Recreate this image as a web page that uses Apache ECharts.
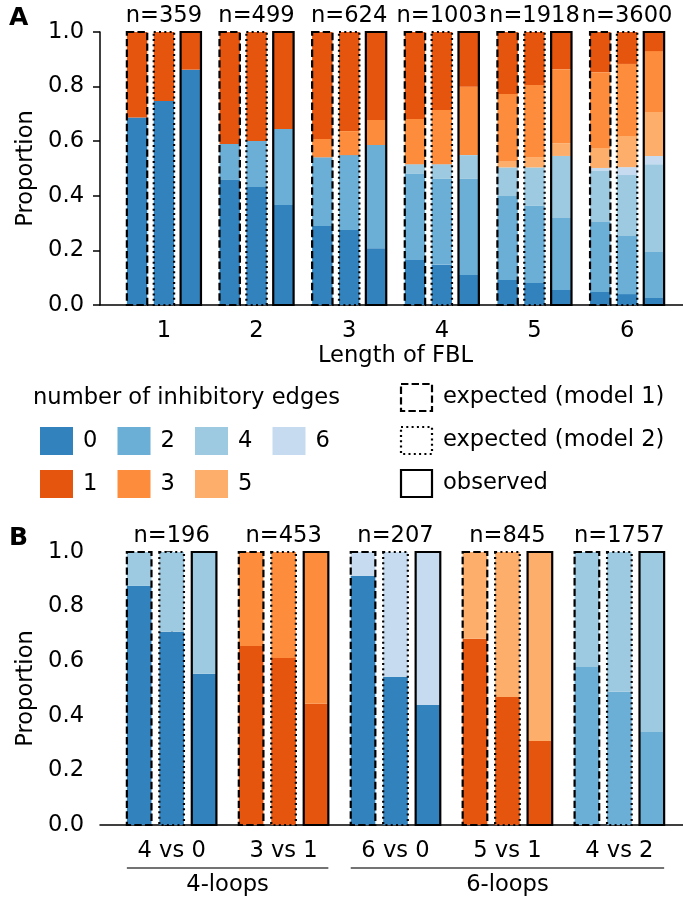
<!DOCTYPE html>
<html>
<head>
<meta charset="utf-8">
<script src="https://cdn.jsdelivr.net/npm/echarts@6/dist/echarts.min.js"></script>
<style>
html,body{margin:0;padding:0;background:#fff;}
#chart{width:683px;height:900px;}
</style>
</head>
<body>
<div id="chart"></div>
<script>
// ---------------- DATA ----------------
// Panel A: proportions per FBL length; columns = number of inhibitory edges 0..6
const fblLengths = [1, 2, 3, 4, 5, 6];
const fblTotals = [359, 499, 624, 1003, 1918, 3600];
const fblModel1 = [
  [0.687, 0.313, 0, 0, 0, 0, 0],
  [0.458, 0.410, 0.132, 0, 0, 0, 0],
  [0.289, 0.392, 0.252, 0.067, 0, 0, 0],
  [0.165, 0.319, 0.315, 0.165, 0.036, 0, 0],
  [0.092, 0.227, 0.307, 0.246, 0.105, 0.023, 0],
  [0.048, 0.147, 0.256, 0.278, 0.187, 0.073, 0.011]
];
const fblModel2 = [
  [0.747, 0.253, 0, 0, 0, 0, 0],
  [0.432, 0.399, 0.169, 0, 0, 0, 0],
  [0.275, 0.363, 0.274, 0.088, 0, 0, 0],
  [0.147, 0.286, 0.315, 0.198, 0.054, 0, 0],
  [0.081, 0.194, 0.282, 0.264, 0.141, 0.038, 0],
  [0.040, 0.117, 0.213, 0.264, 0.223, 0.114, 0.029]
];
const fblObserved = [
  [0.862, 0.138, 0, 0, 0, 0, 0],
  [0.366, 0.355, 0.279, 0, 0, 0, 0],
  [0.208, 0.322, 0.378, 0.092, 0, 0, 0],
  [0.110, 0.201, 0.352, 0.250, 0.087, 0, 0],
  [0.055, 0.136, 0.264, 0.271, 0.227, 0.047, 0],
  [0.026, 0.070, 0.168, 0.223, 0.322, 0.161, 0.030]
];

// Panel B: pairs of loops; proportion of the "lower" edge-count class
const pairLabels = ['4 vs 0', '3 vs 1', '6 vs 0', '5 vs 1', '4 vs 2'];
const pairTotals = [196, 453, 207, 845, 1757];
const pairLower = [0, 1, 0, 1, 2];
const pairUpper = [4, 3, 6, 5, 4];
const pairModel1 = [0.876, 0.656, 0.913, 0.682, 0.579];
const pairModel2 = [0.708, 0.612, 0.543, 0.469, 0.488];
const pairObserved = [0.554, 0.444, 0.440, 0.308, 0.341];
const loopGroupNames = ['4-loops', '6-loops'];
const loopGroupFirst = [0, 2];
const loopGroupLast = [1, 4];

const edgeLegendRow1 = [0, 2, 4, 6];
const edgeLegendRow2 = [1, 3, 5];
const styleLegendNames = ['expected (model 1)', 'expected (model 2)', 'observed'];

// ---------------- STYLE ----------------
const FONT = 'DejaVu Sans';
const FS = 22.6;
const EDGE_COLORS = ['#3182bd', '#e6550d', '#6baed6', '#fd8d3c', '#9ecae1', '#fdae6b', '#c6dbef'];
const STACK_ORDER = [0, 2, 4, 6, 5, 3, 1];
const BAR_W = 0.22;
const BAR_OFFSETS = [-0.29, 0, 0.29];
const OUTLINE_LW = 2.2;
const DASHES = [[7.4, 3.2], [2, 3.3], null];

// ---------------- BUILD ----------------
function segsA() {
  const out = [];
  const sets = [fblModel1, fblModel2, fblObserved];
  fblLengths.forEach((len, i) => {
    sets.forEach((set, t) => {
      let cum = 0;
      STACK_ORDER.forEach(e => {
        const v = set[i][e];
        if (v > 0) { out.push([len + BAR_OFFSETS[t], cum, cum + v, e]); cum += v; }
      });
    });
  });
  return out;
}
function segsB() {
  const out = [];
  const sets = [pairModel1, pairModel2, pairObserved];
  pairLabels.forEach((lab, i) => {
    sets.forEach((set, t) => {
      const v = set[i];
      out.push([i + BAR_OFFSETS[t], 0, v, pairLower[i]]);
      out.push([i + BAR_OFFSETS[t], v, 1, pairUpper[i]]);
    });
  });
  return out;
}
function outlines(xs) {
  const out = [];
  xs.forEach(x => BAR_OFFSETS.forEach((o, t) => out.push([x + o, 0, 1, t])));
  return out;
}

function segRender(params, api) {
  const x = api.value(0), y0 = api.value(1), y1 = api.value(2), e = api.value(3);
  const p0 = api.coord([x - BAR_W / 2, y0]);
  const p1 = api.coord([x + BAR_W / 2, y1]);
  return {
    type: 'rect',
    shape: { x: p0[0], y: p1[1], width: p1[0] - p0[0], height: p0[1] - p1[1] },
    style: { fill: EDGE_COLORS[e] }
  };
}
function outlineRender(params, api) {
  const x = api.value(0), t = api.value(3);
  const p0 = api.coord([x - BAR_W / 2, 0]);
  const p1 = api.coord([x + BAR_W / 2, 1]);
  return {
    type: 'rect',
    shape: { x: p0[0], y: p1[1], width: p1[0] - p0[0], height: p0[1] - p1[1] },
    style: { fill: null, stroke: '#000', lineWidth: OUTLINE_LW, lineDash: DASHES[t] }
  };
}
function nRender(params, api) {
  const x = api.value(0), n = api.value(1);
  const p = api.coord([x, 1]);
  return {
    type: 'text',
    x: p[0], y: p[1] - 4,
    style: { text: 'n=' + n, font: FS + 'px "' + FONT + '"', fill: '#000', align: 'center', verticalAlign: 'bottom' }
  };
}
function loopRender(params, api) {
  const a = api.value(0), b = api.value(1), i = api.value(2);
  const p0 = api.coord([a - BAR_OFFSETS[2] - BAR_W / 2, 0]);
  const p1 = api.coord([b + BAR_OFFSETS[2] + BAR_W / 2, 0]);
  const yl = p0[1] + 43;
  return {
    type: 'group',
    children: [
      { type: 'line', shape: { x1: p0[0], y1: yl, x2: p1[0], y2: yl }, style: { stroke: '#444', lineWidth: 1.3 } },
      { type: 'text', x: (p0[0] + p1[0]) / 2, y: yl + 6,
        style: { text: loopGroupNames[i], font: FS + 'px "' + FONT + '"', fill: '#000', align: 'center', verticalAlign: 'top' } }
    ]
  };
}

const yAxisCommon = {
  type: 'value', min: 0, max: 1, interval: 0.2,
  name: 'Proportion', nameLocation: 'middle', nameGap: 58,
  nameTextStyle: { fontFamily: FONT, fontSize: FS, color: '#000' },
  axisLine: { show: true, lineStyle: { color: '#000', width: 1.5 } },
  axisTick: { show: true, inside: false, length: 7, lineStyle: { color: '#000', width: 1.5 } },
  axisLabel: { fontFamily: FONT, fontSize: FS, color: '#000', margin: 16, formatter: v => v.toFixed(1) },
  splitLine: { show: false }
};

const option = {
  animation: false,
  backgroundColor: '#fff',
  textStyle: { fontFamily: FONT },
  grid: [
    { left: 100, top: 32, width: 591, height: 273, outerBoundsMode: 'none', containLabel: false },
    { left: 100, top: 552, width: 591, height: 273, outerBoundsMode: 'none', containLabel: false }
  ],
  xAxis: [
    {
      gridIndex: 0, type: 'value', min: 0.31, max: 6.69,
      name: 'Length of FBL', nameLocation: 'middle', nameGap: 40,
      nameTextStyle: { fontFamily: FONT, fontSize: FS, color: '#000' },
      axisLine: { show: true, onZero: false, lineStyle: { color: '#000', width: 1.5 } },
      axisTick: { show: false, customValues: fblLengths },
      axisLabel: { fontFamily: FONT, fontSize: FS, color: '#000', margin: 15, customValues: fblLengths, formatter: v => String(v) },
      splitLine: { show: false }
    },
    {
      gridIndex: 1, type: 'value', min: -0.64, max: 4.64,
      axisLine: { show: true, onZero: false, lineStyle: { color: '#000', width: 1.5 } },
      axisTick: { show: false, customValues: pairLabels.map((l, i) => i) },
      axisLabel: { fontFamily: FONT, fontSize: FS, color: '#000', margin: 15,
        customValues: pairLabels.map((l, i) => i), formatter: v => pairLabels[Math.round(v)] },
      splitLine: { show: false }
    }
  ],
  yAxis: [
    Object.assign({ gridIndex: 0 }, yAxisCommon),
    Object.assign({ gridIndex: 1 }, yAxisCommon)
  ],
  series: [
    { type: 'custom', xAxisIndex: 0, yAxisIndex: 0, renderItem: segRender, data: segsA(), silent: true, clip: false },
    { type: 'custom', xAxisIndex: 0, yAxisIndex: 0, renderItem: outlineRender, data: outlines(fblLengths), silent: true, clip: false, z: 3 },
    { type: 'custom', xAxisIndex: 0, yAxisIndex: 0, renderItem: nRender, data: fblLengths.map((l, i) => [l, fblTotals[i]]), silent: true, clip: false },
    { type: 'custom', xAxisIndex: 1, yAxisIndex: 1, renderItem: segRender, data: segsB(), silent: true, clip: false },
    { type: 'custom', xAxisIndex: 1, yAxisIndex: 1, renderItem: outlineRender, data: outlines(pairLabels.map((l, i) => i)), silent: true, clip: false, z: 3 },
    { type: 'custom', xAxisIndex: 1, yAxisIndex: 1, renderItem: nRender, data: pairLabels.map((l, i) => [i, pairTotals[i]]), silent: true, clip: false },
    { type: 'custom', xAxisIndex: 1, yAxisIndex: 1, renderItem: loopRender,
      data: loopGroupNames.map((n, i) => [loopGroupFirst[i], loopGroupLast[i], i]), silent: true, clip: false }
  ],
  graphic: buildLegend()
};

function buildLegend() {
  const els = [];
  const font = FS + 'px "' + FONT + '"';
  els.push({ type: 'text', left: 9, top: 6, style: { text: 'A', font: 'bold 25px "' + FONT + '"', fill: '#000' } });
  els.push({ type: 'text', left: 9, top: 526, style: { text: 'B', font: 'bold 25px "' + FONT + '"', fill: '#000' } });
  els.push({ type: 'text', x: 33, y: 398, style: { text: 'number of inhibitory edges', font, fill: '#000', verticalAlign: 'middle' } });
  const rows = [edgeLegendRow1, edgeLegendRow2];
  rows.forEach((row, r) => {
    row.forEach((e, c) => {
      const x = 40 + c * 77.5, yc = 441 + r * 43;
      els.push({ type: 'rect', shape: { x, y: yc - 14, width: 33, height: 28 }, style: { fill: EDGE_COLORS[e] } });
      els.push({ type: 'text', x: x + 43, y: yc, style: { text: String(e), font, fill: '#000', verticalAlign: 'middle' } });
    });
  });
  styleLegendNames.forEach((name, t) => {
    const yc = 397 + t * 43;
    els.push({ type: 'rect', shape: { x: 401, y: yc - 13, width: 31, height: 27 },
      style: { fill: null, stroke: '#000', lineWidth: OUTLINE_LW, lineDash: DASHES[t] } });
    els.push({ type: 'text', x: 443, y: yc, style: { text: name, font, fill: '#000', verticalAlign: 'middle' } });
  });
  return els;
}

const chart = echarts.init(document.getElementById('chart'), null, { renderer: 'canvas' });
chart.setOption(option);
</script>
</body>
</html>
